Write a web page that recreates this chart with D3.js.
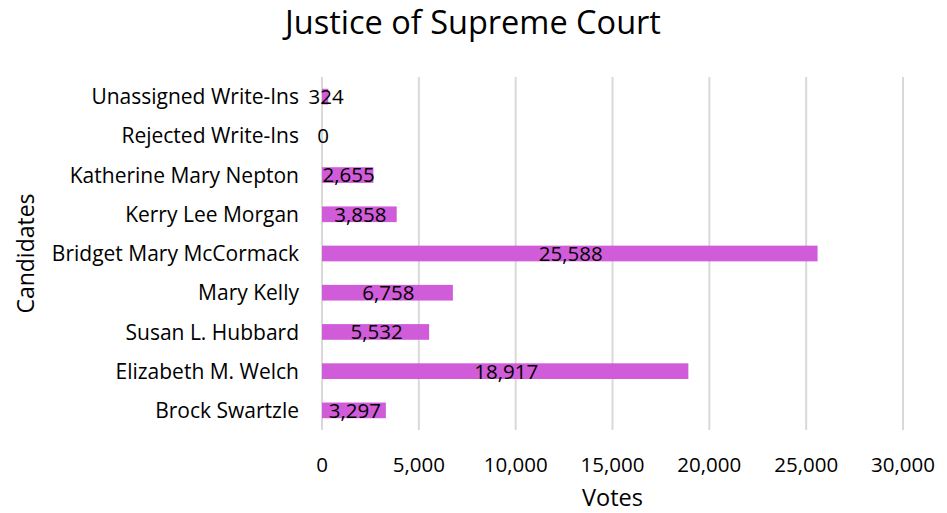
<!DOCTYPE html>
<html>
<head>
<meta charset="utf-8">
<script src="https://cdn.jsdelivr.net/npm/d3@7"></script>
<style>
  body { margin: 0; background: #fff; }
  svg text { font-family: "Open Sans", Lato, sans-serif; fill: #000; }
</style>
</head>
<body>
<svg id="chart" width="947" height="513"></svg>
<script>
// values, top row first
var candidates = ['Unassigned Write-Ins', 'Rejected Write-Ins', 'Katherine Mary Nepton',
  'Kerry Lee Morgan', 'Bridget Mary McCormack', 'Mary Kelly', 'Susan L. Hubbard',
  'Elizabeth M. Welch', 'Brock Swartzle'];
var votes = [324, 0, 2655, 3858, 25588, 6758, 5532, 18917, 3297];
var xTicks = [0, 5000, 10000, 15000, 20000, 25000, 30000];

var svg = d3.select('#chart');
var margin = {top: 77, right: 44, bottom: 83, left: 322};
var width = 947 - margin.left - margin.right,
    height = 513 - margin.top - margin.bottom;

var x = d3.scaleLinear().domain([0, 30000]).range([0, width]);
var y = d3.scaleBand().domain(candidates).range([0, height]).paddingInner(0.6).paddingOuter(0.3);

var g = svg.append('g').attr('transform', 'translate(' + margin.left + ',' + margin.top + ')');

// gridlines
g.selectAll('line.grid').data(xTicks).enter().append('line')
    .attr('class', 'grid')
    .attr('x1', function(d) { return x(d); })
    .attr('x2', function(d) { return x(d); })
    .attr('y1', 0).attr('y2', height)
    .attr('stroke', '#d9d9d9').attr('stroke-width', 2);

// x tick labels
var fmt = d3.format(',');
g.selectAll('text.xtick').data(xTicks).enter().append('text')
    .attr('class', 'xtick')
    .attr('x', function(d) { return x(d); })
    .attr('y', height + 42)
    .attr('text-anchor', 'middle')
    .style('font-size', '20.5px')
    .text(function(d) { return fmt(d); });

// bars
g.selectAll('rect.bar').data(votes).enter().append('rect')
    .attr('class', 'bar')
    .attr('x', x(0))
    .attr('y', function(d, i) { return y(candidates[i]); })
    .attr('width', function(d) { return x(d) - x(0); })
    .attr('height', y.bandwidth())
    .attr('fill', '#d05cd9');

// data labels
g.selectAll('text.val').data(votes).enter().append('text')
    .attr('class', 'val')
    .attr('x', function(d) { return x(d / 2) + 1; })
    .attr('y', function(d, i) { return y(candidates[i]) + y.bandwidth() / 2; })
    .attr('dy', '0.36em')
    .attr('text-anchor', 'middle')
    .style('font-size', '20.5px')
    .text(function(d) { return fmt(d); });

// category labels
g.selectAll('text.cat').data(candidates).enter().append('text')
    .attr('class', 'cat')
    .attr('x', -23)
    .attr('y', function(d) { return y(d) + y.bandwidth() / 2; })
    .attr('dy', '0.36em')
    .attr('text-anchor', 'end')
    .style('font-size', '21px')
    .text(function(d) { return d; });

// title and axis titles
svg.append('text')
    .attr('x', 473).attr('y', 34)
    .attr('text-anchor', 'middle')
    .style('font-size', '32.5px')
    .text('Justice of Supreme Court');

svg.append('text')
    .attr('x', margin.left + width / 2).attr('y', 506)
    .attr('text-anchor', 'middle')
    .style('font-size', '23.5px')
    .text('Votes');

svg.append('text')
    .attr('transform', 'translate(34,' + (margin.top + height / 2) + ') rotate(-90)')
    .attr('text-anchor', 'middle')
    .style('font-size', '23px')
    .text('Candidates');
</script>
</body>
</html>
